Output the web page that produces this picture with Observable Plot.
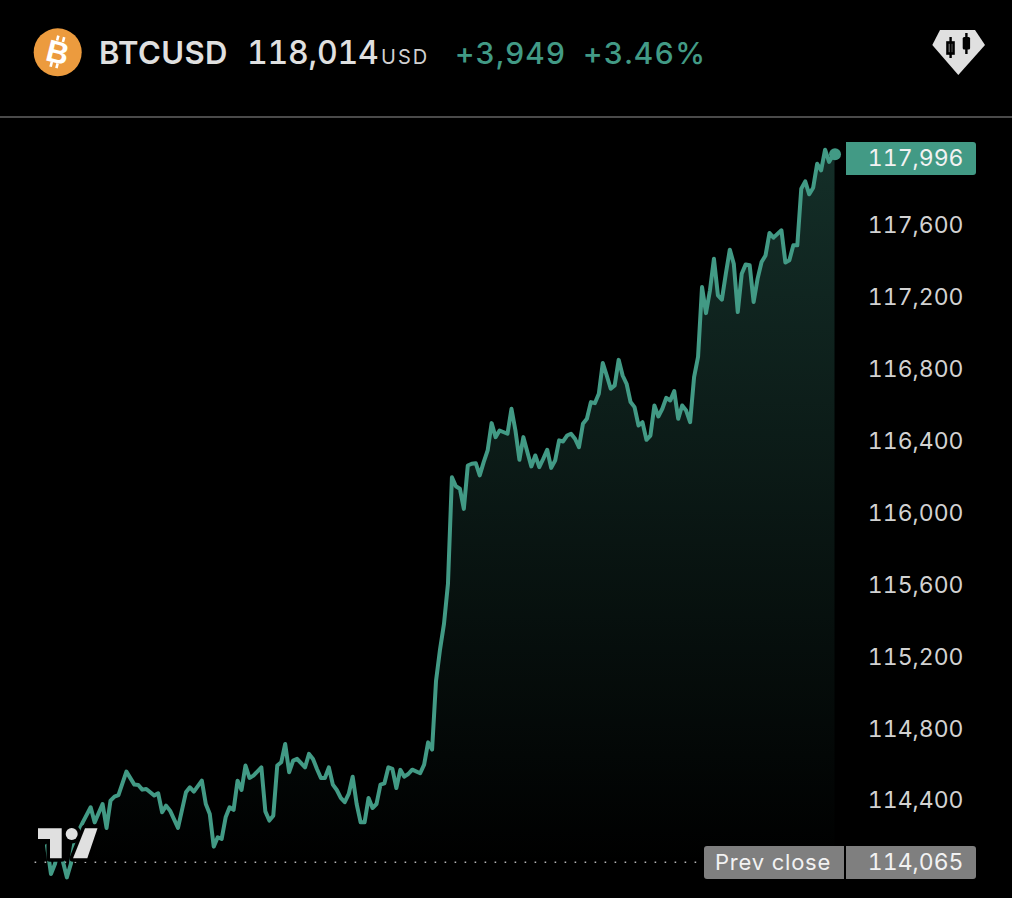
<!DOCTYPE html>
<html>
<head>
<meta charset="utf-8">
<script src="https://cdn.jsdelivr.net/npm/d3@7"></script>
<script src="https://cdn.jsdelivr.net/npm/@observablehq/plot@0.6"></script>
<style>
html,body{margin:0;padding:0;background:#000;width:1012px;height:898px;overflow:hidden;font-family:Inter,Roboto,"Noto Sans",sans-serif}
#wrap{position:relative;width:1012px;height:898px}
#head{position:absolute;left:0;top:0;width:1012px;height:116px;border-bottom:2px solid #4a4a4a}
.h{position:absolute;top:34px;line-height:38px;white-space:nowrap;font-variant-numeric:tabular-nums}
#chart{position:absolute;left:0;top:118px}
#chart svg{display:block}
.tag{position:absolute;height:33px;line-height:33px;color:#f2f2f2;font-size:23px;letter-spacing:0;box-sizing:border-box;white-space:nowrap;font-variant-numeric:tabular-nums}
.ov{position:absolute;left:0;top:0;pointer-events:none}
</style>
</head>
<body>
<div id="wrap">
  <div id="head">
    <span class="h" style="left:99px;font-size:31px;font-weight:600;color:#e0e0e0;letter-spacing:.4px">BTCUSD</span>
    <span class="h" style="left:247px;font-size:32px;font-weight:500;color:#e0e0e0;letter-spacing:-.2px">118,014</span>
    <span class="h" style="left:381px;top:38px;font-size:20px;color:#d0d0d0;letter-spacing:2px">USD</span>
    <span class="h" style="left:455px;font-size:30px;font-weight:500;color:#429a85;letter-spacing:1px">+3,949</span>
    <span class="h" style="left:583px;font-size:30px;font-weight:500;color:#429a85;letter-spacing:1.3px">+3.46%</span>
  </div>
  <div id="chart"></div>
  <svg class="ov" width="1012" height="898">
    <circle cx="57.7" cy="52.3" r="24" fill="#ec9b3e"/>
    <g transform="rotate(14 57.7 52.3)" fill="#fff">
      <text x="57.7" y="63" text-anchor="middle" font-family="Liberation Sans" font-weight="700" font-size="31">B</text>
      <rect x="53" y="36" width="2.6" height="5"/><rect x="59" y="36" width="2.6" height="5"/>
      <rect x="53" y="63" width="2.6" height="5"/><rect x="59" y="63" width="2.6" height="5"/>
    </g>
    <polygon points="940,30 975,30 985,45 958.3,75 932.3,45" fill="#e0e0e0"/>
    <rect x="947.5" y="42.5" width="6" height="11" fill="none" stroke="#000" stroke-width="2.6"/>
    <rect x="949.4" y="37" width="2.4" height="21" fill="#000"/>
    <rect x="962.7" y="37" width="7.4" height="12.5" rx="1.5" fill="#000"/>
    <rect x="965.2" y="33" width="2.4" height="21" fill="#000"/>
    <g fill="#e0e0e0" stroke="#000" stroke-width="7" paint-order="stroke" stroke-linejoin="round">
      <polygon points="38,828.3 61.7,828.3 61.7,858.3 50,858.3 50,839 38,839"/>
      <circle cx="71.7" cy="834" r="6"/>
      <polygon points="85,828.3 97.5,828.3 87.3,858.3 73,858.3"/>
    </g>
  </svg>
</div>
<script>
// 5-minute bar number of each price
const barIndex = [0,1,2,3,5,6,7,8,9,11,12,14,15,16,17,18,20,22,23,24,25,27,28,29,30,31,33,35,36,37,39,40,41,42,43,44,45,46,47,48,49,50,51,52,54,55,56,57,58,59,60,61,62,63,64,65,66,67,68,69,70,71,72,73,74,75,76,77,78,79,80,81,82,83,84,85,86,87,88,89,90,91,92,94,95,96,97,98,99,100,101,102,103,104,105,106,107,108,109,110,111,112,113,114,116,117,118,119,120,121,122,123,124,125,126,127,128,129,130,131,132,133,134,135,136,137,138,139,140,141,142,143,144,145,146,147,148,149,150,151,152,153,154,155,156,157,158,159,160,161,162,163,164,165,166,167,168,169,170,171,172,173,174,175,176,177,178,179,180,181,182,183,185,186,187,188,189,190,191,192,193,194,195,196,197,198,198.5];
const prices = [114149,113992,114047,114150,113973,114047,114177,114233,114279,114363,114279,114381,114248,114400,114422,114431,114561,114489,114487,114461,114465,114428,114441,114335,114372,114344,114248,114446,114474,114450,114511,114381,114326,114144,114196,114187,114307,114363,114348,114511,114459,114595,114526,114539,114585,114340,114289,114316,114595,114613,114715,114558,114622,114632,114608,114585,114660,114632,114576,114526,114526,114585,114489,114459,114415,114391,114437,114533,114381,114279,114279,114415,114359,114381,114489,114496,114585,114576,114470,114571,114533,114548,114572,114552,114600,114724,114684,115067,115240,115383,115605,116199,116149,116135,116023,116264,116274,116277,116209,116283,116348,116500,116422,116459,116441,116580,116459,116296,116422,116339,116259,116320,116255,116301,116352,116251,116292,116404,116398,116431,116441,116413,116366,116496,116524,116617,116611,116663,116834,116765,116691,116710,116852,116765,116719,116617,116589,116487,116505,116407,116431,116598,116537,116580,116641,116626,116678,116524,116598,116570,116505,116756,116868,117257,117112,117239,117415,117211,117187,117331,117465,117387,117118,117331,117383,117378,117174,117304,117396,117433,117558,117532,117573,117393,117406,117489,117489,117804,117845,117773,117810,117943,117906,118021,117953,117990,117996];
const yTicks = [114400,114800,115200,115600,116000,116400,116800,117200,117600];
const lastPrice = 117996;
const prevClose = 114065;
const areaFloor = 113900;

const rows = barIndex.map((b,i)=>({bar:b,price:prices[i]}));
const lineColor = "#429a85";
const defs = () => {
  const ns="http://www.w3.org/2000/svg";
  const d=document.createElementNS(ns,"defs");
  d.innerHTML=`<linearGradient id="fillG" gradientUnits="userSpaceOnUse" x1="0" y1="35" x2="0" y2="745">
    <stop offset="0" stop-color="${lineColor}" stop-opacity=".3"/>
    <stop offset="1" stop-color="${lineColor}" stop-opacity="0"/></linearGradient>`;
  return d;
};
const chart = Plot.plot({
  width:1012,height:780,
  marginLeft:963,marginRight:0,marginTop:0,marginBottom:0,
  style:{background:"transparent",fontFamily:"Inter,Roboto,sans-serif",overflow:"visible"},
  x:{domain:[0,199],range:[46.5,836.5],axis:null},
  y:{domain:[114000,118000],range:[754,35],axis:null},
  marks:[
    defs,
    Plot.areaY(rows,{x:"bar",y1:areaFloor,y2:"price",fill:"url(#fillG)",curve:"linear"}),
    Plot.ruleY([prevClose],{x1:-3,x2:165,stroke:"#b5b5b5",strokeWidth:1.6,strokeDasharray:"1.6 8.4",dy:1.5}),
    Plot.lineY(rows,{x:"bar",y:"price",stroke:lineColor,strokeWidth:4,strokeLinejoin:"round",curve:"linear"}),
    Plot.dot([rows[rows.length-1]],{x:"bar",y:"price",r:6,fill:lineColor}),
    Plot.axisY({anchor:"left",label:null,ticks:yTicks,tickSize:0,tickPadding:0,dy:0.5,tickFormat:d3.format(","),fontSize:23,fill:"#d2d2d2",style:{letterSpacing:"0.9px"}})
  ]
});
document.getElementById("chart").appendChild(chart);
const yS = chart.scale("y");
const wrap = document.getElementById("wrap");
function tag(text,left,width,val,bg,align,radius,off){
  const e=document.createElement("div");
  e.className="tag";e.textContent=text;
  const cy=118+yS.apply(val)+off;
  e.style.cssText+=`left:${left}px;width:${width}px;top:${cy-16.5}px;background:${bg};text-align:${align};border-radius:${radius};`;
  if(align==="right")e.style.paddingRight="12.5px"; else {e.style.paddingLeft="11px";e.style.fontSize="22px";e.style.letterSpacing=".8px";}
  wrap.appendChild(e);
}
tag(d3.format(",")(lastPrice),846,130,lastPrice,lineColor,"right","0 3px 3px 0",5);
tag(d3.format(",")(prevClose),846,130,prevClose,"#7f7f7f","right","0 3px 3px 0",1.7);
tag("Prev close",704,140,prevClose,"#7f7f7f","left","3px 0 0 3px",1.7);
</script>
</body>
</html>
